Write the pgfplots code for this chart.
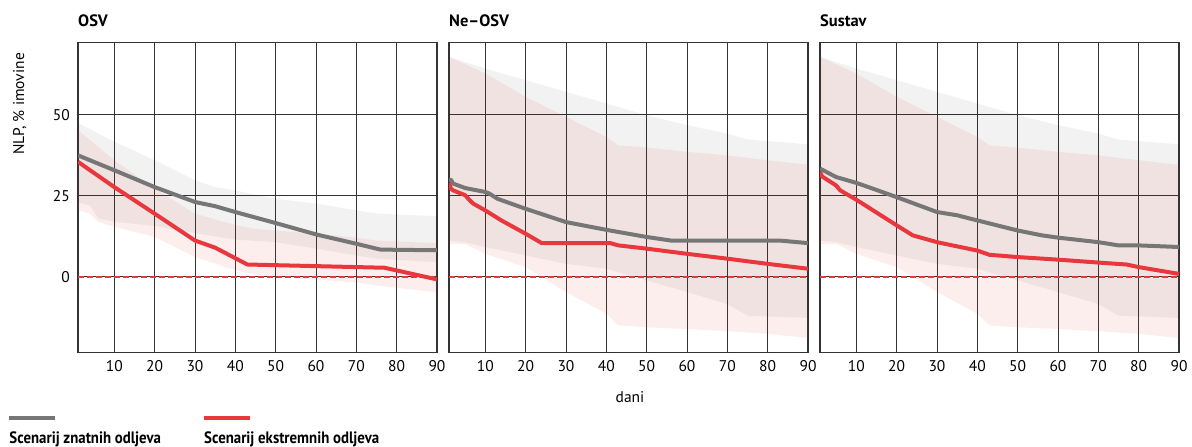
\documentclass[border=0pt]{standalone}
\usepackage{fontspec}
\setmainfont{PT Sans}
\newfontfamily\legfont[FakeStretch=0.9]{PT Sans}
\usepackage{pgfplots}
\pgfplotsset{compat=1.18}
\definecolor{cgray}{RGB}{118,118,118}
\definecolor{cred}{RGB}{232,56,61}
\definecolor{cgrid}{RGB}{51,51,51}
\newcommand{\tfont}{\fontsize{15.5bp}{18bp}\selectfont}
\newcommand{\hfont}{\fontsize{16.5bp}{19bp}\selectfont\bfseries}
\pgfplotsset{
  panel/.style={
    scale only axis, width=359bp, height=310bp,
    xmin=1, xmax=90, ymin=-23.3, ymax=72.4,
    xtick={10,20,...,90}, ytick={0,25,50},
    grid=major,
    major grid style={draw=cgrid, line width=0.8bp},
    axis line style={draw=cgrid, line width=1.2bp},
    major tick length=0pt,
    tick style={draw=none},
    /pgf/number format/assume math mode=true,
    xticklabel style={inner sep=0pt, anchor=north, yshift=-8bp, font=\tfont},
    yticklabel style={inner sep=0pt, anchor=east, xshift=-8bp, font=\tfont},
    anchor=south west,
  },
  gband/.style={draw=none, fill=black, fill opacity=0.05},
  rband/.style={draw=none, fill=cred, fill opacity=0.085},
  gline/.style={draw=cgray, line width=4bp, line join=round, no marks},
  rline/.style={draw=cred, line width=4bp, line join=round, no marks},
  zline/.style={draw=cred, line width=1.8bp, dash pattern=on 6bp off 3bp, no marks},
}
\begin{document}
\begin{tikzpicture}
\path[use as bounding box] (0,0) rectangle (1192bp,447bp);

% ---------- OSV ----------
\begin{axis}[panel, at={(78bp,94.7bp)}]
\addplot[gband] coordinates {(1,47.5)(10,41.7)(20,36)(30,29.8)(35,27.7)(40,26.7)(45,25.3)(50,24.1)(60,22.6)(70,20.5)(75.5,19.5)(90,18.7)
 (90,4.5)(75,5.6)(70,6.6)(60,8.7)(50,10.7)(40,11.5)(30,13.5)(20,15.7)(10,17)(6,18)(4,22)(1,23)} --cycle;
\addplot[rband] coordinates {(1,45.3)(10,36)(20,27.2)(30,19.5)(40,16)(45,14.8)(50,14.3)(60,13.3)(70,12.1)(75,11.2)(90,10.4)
 (90,-4.8)(75,-2.7)(70,-1.7)(60,-0.9)(50,0)(45,0.6)(40,2)(30,6.1)(20,12.3)(10,15.4)(6,17)(4,19.5)(1,20.5)} --cycle;
\addplot[zline] coordinates {(1,0)(90,0)};
\addplot[gline] coordinates {(1,37.5)(10,32.9)(20,27.7)(30,23.1)(35,21.8)(40,20)(50,16.6)(60,13.1)(70,10.2)(76,8.4)(90,8.2)};
\addplot[rline] coordinates {(1,35.5)(10,27.7)(20,19.5)(30,11.2)(35,9)(43,3.8)(60,3.3)(77,2.8)(90,-0.8)};
\end{axis}

% ---------- Ne-OSV ----------
\begin{axis}[panel, at={(449bp,94.7bp)}, yticklabels={}]
\addplot[gband] coordinates {(1,67.9)(10,64.3)(20,60.7)(30,57.1)(40,53.5)(50,49.9)(60,46.8)(70,44.2)(75,42.4)(90,40.9)
 (90,-12.7)(75,-12)(70,-8.4)(60,-4.7)(50,-1.1)(40,2.5)(30,4)(20,6.6)(10,9.2)(5,10.7)(1,11.2)} --cycle;
\addplot[rband] coordinates {(1,67.9)(10,62.8)(20,55.6)(30,49.4)(40,43.2)(43,40.6)(50,39.9)(60,38.6)(70,37.5)(80,36)(90,34.6)
 (90,-18.9)(80,-17.6)(70,-16.8)(60,-16.1)(50,-15.6)(43,-15)(40,-11.4)(30,-4.7)(20,3)(10,7.1)(5,10.2)(1,10.2)} --cycle;
\addplot[zline] coordinates {(1,0)(90,0)};
\addplot[gline] coordinates {(1,29.8)(1.5,30)(2,28.8)(5,27.4)(10,26.2)(11,25.7)(13,24.1)(20,21)(30,16.9)(40,14.5)(50,12.3)(56,11.2)(83,11.2)(90,10.4)};
\addplot[rline] coordinates {(1,29)(1.5,27.2)(2,26.7)(5,25.2)(6,23.8)(7,22.6)(10,20.5)(14,17.4)(20,13.3)(24,10.4)(41,10.4)(43,9.7)(50,8.7)(60,7.1)(70,5.6)(80,4)(90,2.5)};
\end{axis}

% ---------- Sustav ----------
\begin{axis}[panel, at={(820bp,94.7bp)}, yticklabels={}]
\addplot[gband] coordinates {(1,67.9)(10,64.3)(20,60.7)(30,57.1)(40,53.5)(50,49.9)(60,46.8)(70,44.2)(75,42.4)(90,40.9)
 (90,-12.7)(75,-12)(70,-8.4)(60,-4.7)(50,-1.1)(40,2.5)(30,4)(20,6.6)(10,9.2)(5,10.7)(1,11.2)} --cycle;
\addplot[rband] coordinates {(1,67.9)(10,62.8)(20,55.6)(30,49.4)(40,43.2)(43,40.6)(50,39.9)(60,38.6)(70,37.5)(80,36)(90,34.6)
 (90,-18.9)(80,-17.6)(70,-16.8)(60,-16.1)(50,-15.6)(43,-15)(40,-11.4)(30,-4.7)(20,3)(10,7.1)(5,10.2)(1,10.2)} --cycle;
\addplot[zline] coordinates {(1,0)(90,0)};
\addplot[gline] coordinates {(1,33.4)(5,30.8)(10,29)(13,27.7)(20,24.6)(30,20)(35,19)(40,17.4)(50,14.3)(56,12.8)(60,12.1)(70,10.7)(75,9.7)(80,9.7)(90,9.2)};
\addplot[rline] coordinates {(1,32.4)(1.5,31)(5,28.2)(6,26.7)(10,23.8)(20,15.9)(24,12.8)(30,10.7)(40,8.1)(43,6.8)(50,6.1)(60,5.3)(70,4.4)(77,3.8)(80,3)(90,0.9)};
\end{axis}

% titles
\node[anchor=base west, inner sep=0pt, font=\hfont] at (78bp,420.3bp) {OSV};
\node[anchor=base west, inner sep=0pt, font=\hfont] at (449bp,420.3bp) {Ne–OSV};
\node[anchor=base west, inner sep=0pt, font=\hfont] at (820bp,420.3bp) {Sustav};
% y label
\node[rotate=90, anchor=base west, inner sep=0pt, font=\tfont] at (24bp,292bp) {NLP, \% imovine};
% x label
\node[anchor=base, inner sep=0pt, font=\tfont] at (630bp,44bp) {dani};
% legend
\draw[cgray, line width=4bp] (9bp,29bp) -- (55bp,29bp);
\draw[cred, line width=4bp] (204bp,29bp) -- (250bp,29bp);
\node[anchor=base west, inner sep=0pt, font=\fontsize{16.5bp}{19bp}\legfont\bfseries] at (9.3bp,3.7bp) {Scenarij znatnih odljeva};
\node[anchor=base west, inner sep=0pt, font=\fontsize{16.5bp}{19bp}\legfont\bfseries] at (204bp,3.7bp) {Scenarij ekstremnih odljeva};
\end{tikzpicture}
\end{document}
